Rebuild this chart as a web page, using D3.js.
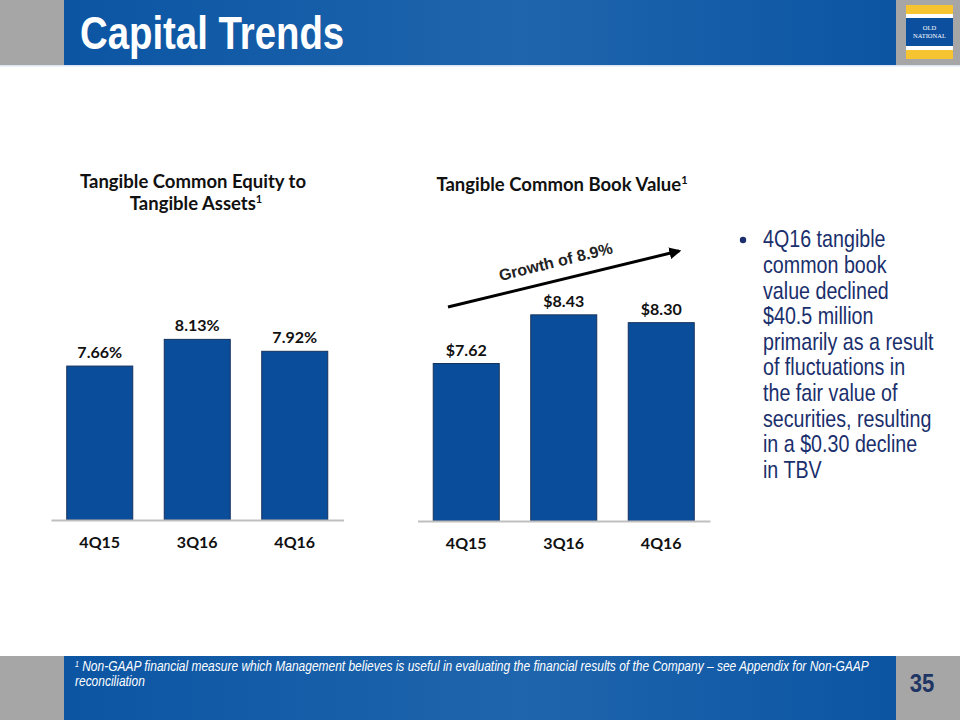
<!DOCTYPE html>
<html>
<head>
<meta charset="utf-8">
<script src="https://cdn.jsdelivr.net/npm/d3@7"></script>
<style>
  html, body { margin: 0; padding: 0; background: #fff; }
  svg { display: block; }
</style>
</head>
<body>
<svg id="chart" width="960" height="720"></svg>
<script>
// ---- data ----
const categories = ["4Q15", "3Q16", "4Q16"];
const tceValues = [7.66, 8.13, 7.92];
const tceLabels = ["7.66%", "8.13%", "7.92%"];
const tbvValues = [7.62, 8.43, 8.30];
const tbvLabels = ["$7.62", "$8.43", "$8.30"];
const pageTitle = "Capital Trends";
const leftTitleLines = ["Tangible Common Equity to", "Tangible Assets"];
const rightTitle = "Tangible Common Book Value";
const growthText = "Growth of 8.9%";
const bulletLines = [
  "4Q16 tangible",
  "common book",
  "value declined",
  "$40.5 million",
  "primarily as a result",
  "of fluctuations in",
  "the fair value of",
  "securities, resulting",
  "in a $0.30 decline",
  "in TBV"
];
const footnoteLines = [
  " Non-GAAP financial measure which Management believes is useful in evaluating the financial results of the Company \u2013 see Appendix for Non-GAAP",
  "reconciliation"
];
const pageNumber = "35";

// ---- styles ----
const GRAY = "#a6a6a6";
const BAR = "#0a4e9b";
const BAR_STROKE = "#14305c";
const TEXT_DARK = "#111";
const LABEL_FONT = "Lato, 'Noto Sans', sans-serif";
const SANS = "'Liberation Sans', Arial, sans-serif";
const NARROW_X = 0.82;

const svg = d3.select("#chart");
const defs = svg.append("defs");

const grad = defs.append("linearGradient").attr("id", "hdr").attr("x1", 0).attr("x2", 1).attr("y1", 0).attr("y2", 0);
grad.append("stop").attr("offset", "0%").attr("stop-color", "#0b55a3");
grad.append("stop").attr("offset", "55%").attr("stop-color", "#1f65ad");
grad.append("stop").attr("offset", "100%").attr("stop-color", "#0b55a3");

defs.append("marker")
  .attr("id", "arrowhead")
  .attr("viewBox", "0 0 10 10")
  .attr("refX", 8).attr("refY", 5)
  .attr("markerWidth", 4).attr("markerHeight", 4)
  .attr("orient", "auto")
  .append("path").attr("d", "M0,0 L10,5 L0,10 Z").attr("fill", "#000");

// helper: condensed text group at (x,y)
function narrowGroup(x, y, sx) {
  return svg.append("g").attr("transform", `translate(${x},${y}) scale(${sx},1)`);
}

// ---- header ----
svg.append("rect").attr("x", 0).attr("y", 0).attr("width", 960).attr("height", 65).attr("fill", GRAY);
svg.append("rect").attr("x", 64).attr("y", 0).attr("width", 832).attr("height", 65).attr("fill", "url(#hdr)");
svg.append("rect").attr("x", 0).attr("y", 65).attr("width", 960).attr("height", 1.5).attr("fill", "#dbe6f2");
narrowGroup(80, 49, 0.816).append("text")
  .attr("x", 0).attr("y", 0)
  .attr("font-family", SANS).attr("font-weight", "bold").attr("font-size", 47)
  .attr("fill", "#fff")
  .text(pageTitle);

// logo
const logo = svg.append("g");
logo.append("rect").attr("x", 906).attr("y", 5).attr("width", 47).attr("height", 54).attr("fill", "#f6c431");
logo.append("rect").attr("x", 906).attr("y", 14).attr("width", 47).attr("height", 36).attr("fill", "#fff");
logo.append("rect").attr("x", 906).attr("y", 18).attr("width", 47).attr("height", 28).attr("fill", "#0c4f9e");
logo.append("text").attr("x", 929.5).attr("y", 30).attr("text-anchor", "middle")
  .attr("font-family", "'Liberation Serif', serif").attr("font-size", 6.5).attr("fill", "#fff").text("OLD");
logo.append("text").attr("x", 929.5).attr("y", 38).attr("text-anchor", "middle")
  .attr("font-family", "'Liberation Serif', serif").attr("font-size", 6.5).attr("fill", "#fff").text("NATIONAL");

// ---- footer ----
svg.append("rect").attr("x", 0).attr("y", 656).attr("width", 960).attr("height", 64).attr("fill", GRAY);
svg.append("rect").attr("x", 64).attr("y", 656).attr("width", 832).attr("height", 64).attr("fill", "url(#hdr)");
const fg = narrowGroup(75, 0, NARROW_X);
const fn1 = fg.append("text")
  .attr("x", 0).attr("y", 671)
  .attr("font-family", SANS).attr("font-style", "italic").attr("font-size", 14.6)
  .attr("fill", "#fff");
fn1.append("tspan").attr("font-size", 8.5).attr("dy", -4).text("1");
fn1.append("tspan").attr("dy", 4).text(footnoteLines[0]);
fg.append("text")
  .attr("x", 0).attr("y", 686)
  .attr("font-family", SANS).attr("font-style", "italic").attr("font-size", 14.6)
  .attr("fill", "#fff")
  .text(footnoteLines[1]);
narrowGroup(922, 692, 0.85).append("text")
  .attr("x", 0).attr("y", 0).attr("text-anchor", "middle")
  .attr("font-family", SANS).attr("font-weight", "bold").attr("font-size", 26)
  .attr("fill", "#1f3564")
  .text(pageNumber);

// ---- bar chart builder ----
function barChart(opts) {
  const x = d3.scaleBand().domain(categories).range(opts.xRange).paddingInner(0.323).paddingOuter(0.1615);
  const y = d3.scaleLinear().domain(opts.yDomain).range(opts.yRange);
  const g = svg.append("g");
  const base = opts.yRange[0];

  g.selectAll("rect.bar")
    .data(opts.values)
    .join("rect")
    .attr("class", "bar")
    .attr("x", (d, i) => x(categories[i]))
    .attr("width", x.bandwidth())
    .attr("y", d => y(d))
    .attr("height", d => base - y(d))
    .attr("fill", BAR)
    .attr("stroke", BAR_STROKE)
    .attr("stroke-width", 1);

  g.selectAll("text.val")
    .data(opts.values)
    .join("text")
    .attr("class", "val")
    .attr("x", (d, i) => x(categories[i]) + x.bandwidth() / 2)
    .attr("y", d => y(d) - 8)
    .attr("text-anchor", "middle")
    .attr("font-family", LABEL_FONT).attr("font-weight", "bold").attr("font-size", 16)
    .attr("fill", TEXT_DARK)
    .text((d, i) => opts.labels[i]);

  const axis = g.append("g")
    .attr("transform", `translate(0,${base})`)
    .call(d3.axisBottom(x).tickSize(0).tickSizeOuter(0));
  axis.select(".domain").attr("stroke", "#bfbfbf").attr("stroke-width", 2);
  axis.selectAll(".tick text")
    .attr("y", 28).attr("dy", 0)
    .attr("font-family", LABEL_FONT).attr("font-weight", "bold").attr("font-size", 16)
    .attr("fill", TEXT_DARK);
  return { x, y };
}

barChart({
  values: tceValues, labels: tceLabels,
  xRange: [51, 343.5], yDomain: [4.95, 9], yRange: [520, 520 - 56.8 * 4.05]
});
barChart({
  values: tbvValues, labels: tbvLabels,
  xRange: [417.5, 710], yDomain: [5, 9], yRange: [521, 521 - 60.1 * 4]
});

// ---- chart titles ----
const titleFont = (sel) => sel.attr("font-family", LABEL_FONT).attr("font-weight", "bold").attr("font-size", 18.5).attr("fill", TEXT_DARK).attr("text-anchor", "middle");
svg.append("text").call(titleFont).attr("x", 193).attr("y", 188).text(leftTitleLines[0]);
const lt2 = svg.append("text").call(titleFont).attr("x", 196).attr("y", 210);
lt2.append("tspan").text(leftTitleLines[1]);
lt2.append("tspan").attr("font-size", 11).attr("dy", -7).text("1");
const rt = svg.append("text").call(titleFont).attr("x", 562).attr("y", 191);
rt.append("tspan").text(rightTitle);
rt.append("tspan").attr("font-size", 11).attr("dy", -7).text("1");

// ---- growth arrow ----
svg.append("line")
  .attr("x1", 448).attr("y1", 307).attr("x2", 679).attr("y2", 251)
  .attr("stroke", "#000").attr("stroke-width", 3)
  .attr("marker-end", "url(#arrowhead)");
svg.append("text")
  .attr("transform", "translate(557,267) rotate(-13.8)")
  .attr("text-anchor", "middle")
  .attr("font-family", SANS).attr("font-weight", "bold").attr("font-size", 16)
  .attr("fill", "#222")
  .text(growthText);

// ---- bullet text ----
const BULLET_COLOR = "#1a2f6c";
svg.append("circle").attr("cx", 743).attr("cy", 240).attr("r", 3.2).attr("fill", BULLET_COLOR);
const bg = narrowGroup(763, 0, NARROW_X);
bg.selectAll("text")
  .data(bulletLines)
  .join("text")
  .attr("x", 0)
  .attr("y", (d, i) => 247.5 + i * 25.6)
  .attr("font-family", SANS).attr("font-size", 24)
  .attr("fill", BULLET_COLOR)
  .text(d => d);
</script>
</body>
</html>
